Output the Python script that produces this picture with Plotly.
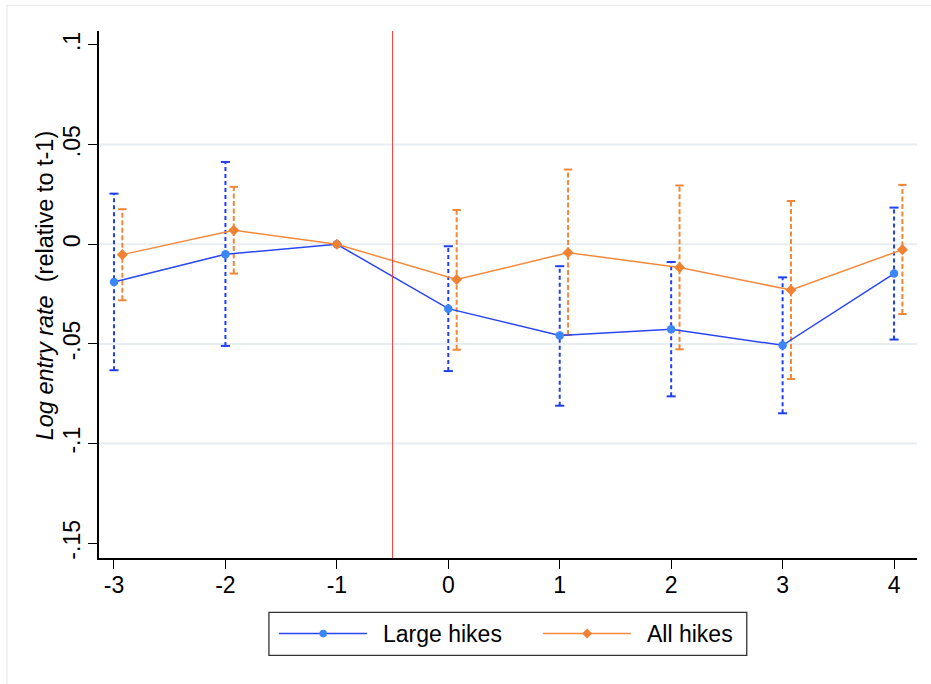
import plotly.graph_objects as go

# ---------------- data ----------------
periods = [-3, -2, -1, 0, 1, 2, 3, 4]
period_labels = ["-3", "-2", "-1", "0", "1", "2", "3", "4"]

large_x = [-3, -2, -1, 0, 1, 2, 3, 4]
large_coef = [-0.0189, -0.0050, 0.0, -0.0323, -0.0458, -0.0426, -0.0507, -0.0147]
large_hi = [0.0254, 0.0413, None, -0.0010, -0.0110, -0.0089, -0.0166, 0.0184]
large_lo = [-0.0632, -0.0510, None, -0.0636, -0.0810, -0.0763, -0.0848, -0.0478]

all_x = [-2.925, -1.925, -1, 0.075, 1.075, 2.075, 3.075, 4.075]
all_coef = [-0.0052, 0.0070, 0.0, -0.0177, -0.0042, -0.0117, -0.0229, -0.0027]
all_hi = [0.0176, 0.0288, None, 0.0172, 0.0375, 0.0295, 0.0217, 0.0298]
all_lo = [-0.0281, -0.0147, None, -0.0529, -0.0455, -0.0527, -0.0676, -0.0350]

y_tickvals = [0.1, 0.05, 0, -0.05, -0.1, -0.15]
y_ticktext = [".1", ".05", "0", "-.05", "-.1", "-.15"]
grid_vals = [0.05, 0, -0.05, -0.1]
event_line_x = -0.5

series_names = ["Large hikes", "All hikes"]

# ---------------- style ----------------
FONT = "Liberation Sans, Arial, Helvetica, sans-serif"
BLUE_LINE = "#2a45f2"
BLUE_MARK = "#3b87f6"
BLUE_CI = "#2040ee"
ORANGE_LINE = "#f28a3c"
ORANGE_MARK = "#ef8233"
ORANGE_CI = "#f0883a"

W, H = 931, 684
L, R, T, B = 99, 917.3, 30.7, 557.7


def px(x):
    return (x - L) / (R - L)


def py(y):
    return (B - y) / (B - T)


def ci_segments(xs, lo, hi):
    sx, sy = [], []
    for x, a, b in zip(xs, lo, hi):
        if a is None or b is None:
            continue
        sx += [x, x, None]
        sy += [a, b, None]
    return sx, sy


def cap_points(xs, lo, hi):
    cx, cy = [], []
    for x, a, b in zip(xs, lo, hi):
        if a is None or b is None:
            continue
        cx += [x, x]
        cy += [a, b]
    return cx, cy


fig = go.Figure()

# confidence intervals
for xs, lo, hi, col, dash, capsize in [
    (large_x, large_lo, large_hi, BLUE_CI, "4px,3px", 6.5),
    (all_x, all_lo, all_hi, ORANGE_CI, "5px,2.5px", 6.0),
]:
    sx, sy = ci_segments(xs, lo, hi)
    fig.add_trace(go.Scatter(x=sx, y=sy, mode="lines",
                             line=dict(color=col, width=2, dash=dash),
                             showlegend=False, hoverinfo="skip"))
    cx, cy = cap_points(xs, lo, hi)
    fig.add_trace(go.Scatter(x=cx, y=cy, mode="markers",
                             marker=dict(symbol="line-ew", size=capsize,
                                         line=dict(color=col, width=2)),
                             showlegend=False, hoverinfo="skip"))

# point estimates
fig.add_trace(go.Scatter(x=large_x, y=large_coef, mode="lines+markers",
                         name=series_names[0],
                         line=dict(color=BLUE_LINE, width=1.5),
                         marker=dict(symbol="circle", size=8.5, color=BLUE_MARK),
                         showlegend=False))
fig.add_trace(go.Scatter(x=all_x, y=all_coef, mode="lines+markers",
                         name=series_names[1],
                         line=dict(color=ORANGE_LINE, width=1.5),
                         marker=dict(symbol="diamond", size=8.5, color=ORANGE_MARK),
                         showlegend=False))

shapes = []
# grid lines
for g in grid_vals:
    shapes.append(dict(type="line", xref="paper", x0=0, x1=1, yref="y", y0=g, y1=g,
                       line=dict(color="#e8edf1", width=2), layer="below"))
# event line
shapes.append(dict(type="line", xref="x", x0=event_line_x, x1=event_line_x,
                   yref="paper", y0=0, y1=1,
                   line=dict(color="#f03a35", width=1), layer="above"))

# faint outer frame
shapes.append(dict(type="rect", xref="paper", yref="paper",
                   x0=px(7), x1=px(960), y0=py(710), y1=py(5),
                   line=dict(color="#e6e6e6", width=1), layer="below"))

# manual legend
shapes.append(dict(type="rect", xref="paper", yref="paper",
                   x0=px(269), x1=px(747), y0=py(655), y1=py(612),
                   line=dict(color="#333333", width=1.3), fillcolor="white"))
ly = 633.3
shapes.append(dict(type="line", xref="paper", yref="paper",
                   x0=px(279), x1=px(367), y0=py(ly), y1=py(ly),
                   line=dict(color=BLUE_LINE, width=1.5)))
shapes.append(dict(type="circle", xref="paper", yref="paper",
                   x0=px(323.3 - 3.8), x1=px(323.3 + 3.8),
                   y0=py(ly + 3.8), y1=py(ly - 3.8),
                   line=dict(color=BLUE_MARK, width=0), fillcolor=BLUE_MARK))
shapes.append(dict(type="line", xref="paper", yref="paper",
                   x0=px(543), x1=px(631), y0=py(ly), y1=py(ly),
                   line=dict(color=ORANGE_LINE, width=1.5)))
dx, dcx = 5.0, 587.3
shapes.append(dict(type="path", xref="paper", yref="paper",
                   path=f"M{px(dcx - dx)},{py(ly)} L{px(dcx)},{py(ly - dx)} "
                        f"L{px(dcx + dx)},{py(ly)} L{px(dcx)},{py(ly + dx)} Z",
                   line=dict(color=ORANGE_MARK, width=0), fillcolor=ORANGE_MARK))

annotations = [
    dict(text=series_names[0], xref="paper", yref="paper", x=px(381), y=py(ly),
         xanchor="left", yanchor="middle", showarrow=False,
         font=dict(family=FONT, size=23, color="black")),
    dict(text=series_names[1], xref="paper", yref="paper", x=px(645), y=py(ly),
         xanchor="left", yanchor="middle", showarrow=False,
         font=dict(family=FONT, size=23, color="black")),
    dict(text="<i>Log entry rate</i>\u00a0\u00a0(relative to t-1)",
         xref="paper", yref="paper", x=px(45), y=py(285),
         xanchor="center", yanchor="middle", textangle=-90, showarrow=False,
         font=dict(family=FONT, size=23.5, color="black")),
]

fig.update_layout(
    width=W, height=H,
    margin=dict(l=L, r=W - R, t=T, b=H - B, pad=0),
    paper_bgcolor="white", plot_bgcolor="white",
    font=dict(family=FONT, size=23, color="black"),
    shapes=shapes, annotations=annotations,
    showlegend=False,
)
fig.update_xaxes(range=[-3.1345, 4.206], tickvals=periods, ticktext=period_labels,
                 ticks="outside", ticklen=9, tickwidth=1.3, tickcolor="black",
                 showline=True, linecolor="black", linewidth=1.5,
                 showgrid=False, zeroline=False, ticklabelstandoff=-3,
                 tickfont=dict(family=FONT, size=23, color="black"))
fig.update_yaxes(range=[-0.1574, 0.107], tickvals=y_tickvals, ticktext=y_ticktext,
                 tickangle=-90,
                 ticks="outside", ticklen=9, tickwidth=1.3, tickcolor="black",
                 showline=True, linecolor="black", linewidth=1.5,
                 showgrid=False, zeroline=False, ticklabelstandoff=-1,
                 tickfont=dict(family=FONT, size=23, color="black"))

fig.write_html("out.html")
